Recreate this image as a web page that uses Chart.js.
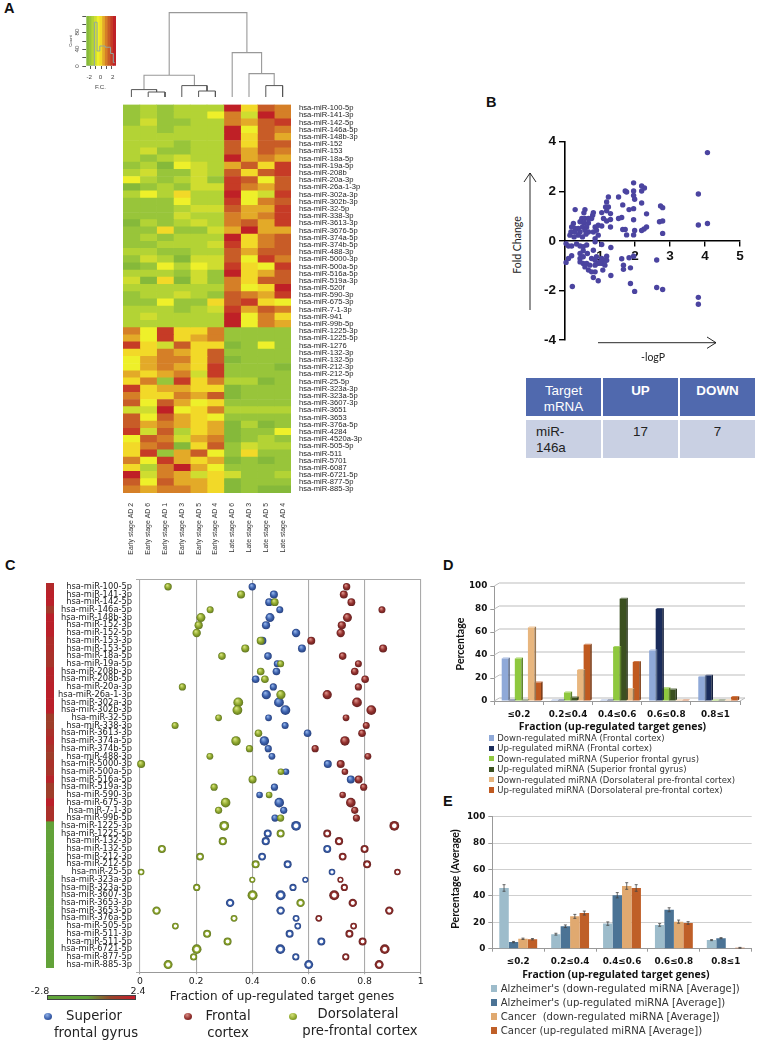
<!DOCTYPE html>
<html>
<head>
<meta charset="utf-8">
<title>miRNA figure</title>
<script src="https://cdn.jsdelivr.net/npm/chart.js@4/dist/chart.umd.min.js"></script>
<style>
  html, body { margin: 0; padding: 0; background: #fff; }
  #page { position: relative; width: 758px; height: 1042px; overflow: hidden; font-family: "Liberation Sans", sans-serif; }
  #page canvas, #page .t, #page .box { position: absolute; }
  #page .t { white-space: nowrap; line-height: 1; }
  #target { position: absolute; left: 526px; top: 378px; border-collapse: separate; border-spacing: 2px 4px; margin: 0; font-size: 13.4px; table-layout: fixed; }
  #target td { padding: 0; vertical-align: top; width: 75px; height: 38px; text-align: center; line-height: 15.5px; color: #222; }
  #target .h td { background: #5069ae; color: #fff; padding-top: 5px; height: 33px; }
  #target .r td { background: #c9d0e3; padding-top: 4px; height: 34px; }
</style>
</head>
<body>
<div id="page">
  <table id="target" style="left:524px;top:374px">
    <tr class="h"><td>Target<br>mRNA</td><td><b>UP</b></td><td><b>DOWN</b></td></tr>
    <tr class="r"><td style="text-align:left"><span style="margin-left:10px">miR-</span><br><span style="margin-left:10px">146a</span></td><td>17</td><td>7</td></tr>
  </table>
  <svg id="arrows" width="758" height="1042" style="position:absolute;left:0;top:0" fill="none" stroke="#111" stroke-width="0.9">
    <path d="M530 310V173M524 182L530 173L536 182"/>
    <path d="M598 342.7H716M707 337L716 342.7L707 348.4"/>
  </svg>
</div>
<script>
const samples = ['Early stage AD 2', 'Early stage AD 6', 'Early stage AD 1', 'Early stage AD 3', 'Early stage AD 5', 'Early stage AD 4',
  'Late stage AD 6', 'Late stage AD 3', 'Late stage AD 5', 'Late stage AD 4'];
const heatNames = ['hsa-miR-100-5p', 'hsa-miR-141-3p', 'hsa-miR-142-5p', 'hsa-miR-146a-5p', 'hsa-miR-148b-3p', 'hsa-miR-152', 'hsa-miR-153', 'hsa-miR-18a-5p',
  'hsa-miR-19a-5p', 'hsa-miR-208b', 'hsa-miR-20a-3p', 'hsa-miR-26a-1-3p', 'hsa-miR-302a-3p', 'hsa-miR-302b-3p', 'hsa-miR-32-5p', 'hsa-miR-338-3p',
  'hsa-miR-3613-3p', 'hsa-miR-3676-5p', 'hsa-miR-374a-5p', 'hsa-miR-374b-5p', 'hsa-miR-488-3p', 'hsa-miR-5000-3p', 'hsa-miR-500a-5p', 'hsa-miR-516a-5p',
  'hsa-miR-519a-3p', 'hsa-miR-520f', 'hsa-miR-590-3p', 'hsa-miR-675-3p', 'hsa-miR-7-1-3p', 'hsa-miR-941', 'hsa-miR-99b-5p',
  'hsa-miR-1225-3p', 'hsa-miR-1225-5p', 'hsa-miR-1276', 'hsa-miR-132-3p', 'hsa-miR-132-5p', 'hsa-miR-212-3p', 'hsa-miR-212-5p', 'hsa-miR-25-5p',
  'hsa-miR-323a-3p', 'hsa-miR-323a-5p', 'hsa-miR-3607-3p', 'hsa-miR-3651', 'hsa-miR-3653', 'hsa-miR-376a-5p', 'hsa-miR-4284', 'hsa-miR-4520a-3p',
  'hsa-miR-505-5p', 'hsa-miR-511', 'hsa-miR-5701', 'hsa-miR-6087', 'hsa-miR-6721-5p', 'hsa-miR-877-5p', 'hsa-miR-885-3p'];
const heatUpper = [
  [1,2,1,2,2,2,10,5,8,7], [1,2,1,2,2,4,7,3,10,7], [1,3,1,1,2,2,7,6,8,9], [2,2,1,2,2,2,10,4,8,7], [2,2,2,2,2,2,10,5,8,6],
  [2,2,2,1,2,2,8,5,8,8], [2,3,1,1,2,2,8,6,8,7], [2,1,2,3,2,2,10,6,7,6], [1,2,0,4,3,2,6,8,5,9], [2,3,1,1,3,2,8,5,8,9],
  [4,2,1,2,3,1,9,8,4,8], [0,1,2,1,3,3,9,7,6,8], [2,4,2,5,2,2,10,4,3,9], [1,1,1,4,2,2,9,4,7,8], [1,1,1,2,3,3,8,6,6,9],
  [1,1,1,3,2,2,7,6,7,9], [0,2,1,2,3,2,7,8,6,9], [1,1,5,1,1,3,6,10,6,6], [1,2,1,2,2,2,10,5,7,8], [1,1,2,2,2,3,9,5,7,8],
  [2,2,1,1,2,2,8,6,8,8], [1,3,2,0,3,3,8,4,9,7], [0,1,4,2,4,3,9,5,4,9], [2,2,2,1,3,1,10,5,6,8], [3,0,5,0,3,1,7,5,8,8],
  [2,2,2,2,2,2,7,4,5,10], [1,2,2,3,2,1,8,7,6,9], [1,1,4,1,1,5,8,9,5,4], [2,2,2,1,2,3,9,6,8,7], [2,3,2,2,2,2,10,4,7,5], [2,2,2,2,2,2,10,4,7,6]];
const heatLower = [
  [7,4,9,5,5,7,1,1,1,1], [6,4,9,5,6,7,1,1,1,1], [9,5,3,8,5,5,0,1,4,1], [5,5,7,6,5,8,1,1,1,1], [4,6,7,7,5,8,0,1,1,1],
  [4,6,7,6,5,9,1,1,1,0], [6,5,6,7,3,9,1,1,1,1], [5,7,1,9,5,7,2,2,0,1], [9,5,6,6,5,5,0,1,1,1], [7,5,5,7,6,8,0,1,1,1],
  [8,4,8,6,4,5,1,1,1,1], [3,3,10,4,5,7,2,2,2,2], [8,4,8,6,5,4,1,1,1,1], [8,6,7,6,5,6,0,2,0,1], [9,3,8,2,5,6,0,1,1,4],
  [4,8,7,3,6,7,0,1,2,1], [5,7,8,0,5,8,1,3,2,2], [5,9,1,6,8,4,1,5,1,1], [7,4,9,6,5,6,0,1,0,1], [5,2,7,10,6,4,1,1,1,1],
  [10,3,7,6,3,5,3,1,1,2], [8,4,8,6,6,5,0,1,1,1], [7,6,7,7,6,5,0,1,0,0]];
const heatPalette = ['#85b93a', '#98c53a', '#b3d335', '#cfdd30', '#eef02a', '#f2d928', '#e3aa28', '#d57f27', '#c85c27', '#c63b26', '#bf2026'];

// dendrogram merges: [left x, left height, right x, right height, merge height]
const dendroLow = [[1.5,0,2.5,0,5], [0.5,0,2,5,7.4], [4.5,0,5.5,0,6], [3.5,0,5,6,11.4], [8.5,0,9.5,0,11.4]];
const dendroHigh = [[1.25,7.4,4.25,11.4,21.7], [7.5,0,9,11.4,23.4], [6.5,0,8.25,23.4,44.4], [2.75,21.7,7.375,44.4,84.4]];

// colour key
const keyBins = [-2.5, -2, -1.5, -1, -0.5, 0, 0.5, 1, 1.5, 2, 2.5];
const keyFill = [120, 120, 120, 120, 120, 120, 120, 120, 120, 120, 120];
const keyCounts = [0, 0, 0, 105, 36, 48, 48, 45, 45, 30, 8];

// Panel B: volcano plot [-logP, fold change]
const volcano = [[4.07,3.56],[3.81,1.89],[3.81,0.64],[4.07,0.70],[3.81,-2.28],[3.81,-2.56],[2.73,1.41],[2.79,1.34],[2.70,0.77],[2.79,0.80],[2.79,0.30],
  [2.62,-0.77],[2.62,-1.88],[2.79,-1.96],[1.96,2.34],[1.96,2.01],[1.96,1.83],[1.99,1.68],[2.19,2.21],[2.27,2.13],[2.19,2.01],[1.72,2.01],[1.76,1.97],
  [1.53,1.77],[1.24,1.77],[1.65,1.45],[1.83,1.26],[1.96,1.30],[2.19,1.53],[2.33,1.09],[1.96,0.85],[2.33,0.56],[2.26,0.48],[2.19,0.42],[1.99,0.42],
  [1.96,0.24],[1.76,0.24],[1.72,0.46],[1.65,0.46],[1.62,0.94],[1.53,0.90],[1.19,1.57],[1.16,1.37],[1.24,1.37],[1.05,1.14],[1.19,1.21],[1.30,1.10],
  [1.30,0.86],[1.19,0.80],[1.10,0.90],[1.30,0.56],[1.05,0.60],[1.31,-0.27],[1.05,-0.15],[1.62,-0.72],[1.83,-0.68],[1.96,-0.62],[1.67,-0.98],[1.67,-1.15],
  [1.87,-1.09],[1.31,-1.40],[1.87,-1.72],[1.99,-2.04],[0.95,-1.61],[0.81,-1.48],[0.86,-1.25],[0.21,-1.84],[1.19,-0.62],[1.14,-0.78],[1.08,-1.18],[1.05,-0.91],
  [0.29,1.26],[0.57,1.26],[0.54,1.13],[0.81,1.14],[0.79,1.03],[0.48,0.90],[0.57,0.90],[0.67,0.90],[0.76,0.90],[0.43,0.77],[0.54,0.72],[0.67,0.72],[0.24,0.70],
  [0.19,0.56],[0.29,0.50],[0.38,0.50],[0.50,0.56],[0.62,0.56],[0.17,0.36],[0.29,0.36],[0.43,0.36],[0.57,0.43],[0.67,0.36],[0.14,0.23],[0.26,0.16],[0.38,0.23],
  [0.50,0.16],[0.60,0.27],[0.86,0.56],[0.95,0.63],[0.90,0.43],[0.81,0.36],[0.95,0.23],[0.86,0.09],[0.03,-0.11],[0.10,-0.21],[0.19,-0.21],[0.33,-0.13],[0.43,-0.21],
  [0.52,-0.24],[0.62,-0.17],[0.86,-0.04],[0.03,-0.87],[0.10,-0.71],[0.19,-0.60],[0.43,-0.51],[0.52,-0.40],[0.43,-0.71],[0.52,-0.64],[0.64,-0.51],[0.43,-0.85],
  [0.52,-0.91],[0.62,-0.91],[0.57,-1.05],[0.71,-0.98],[0.67,-1.18],[0.76,-1.25],[0.81,-0.38],[0.86,-0.78],[0.95,-0.91],[0.76,-0.71],[0.90,-0.64],[1.05,-0.71],
  [1.14,-0.98],[0.86,-0.98],[1.19,-0.78],[1.0,-0.85]];

// Panel C: fractions per miRNA
const rowNames = ['hsa-miR-100-5p','hsa-miR-141-3p','hsa-miR-142-5p','hsa-miR-146a-5p','hsa-miR-148b-3p','hsa-miR-152-3p','hsa-miR-152-5p','hsa-miR-153-3p','hsa-miR-153-5p',
  'hsa-miR-18a-5p','hsa-miR-19a-5p','hsa-miR-208b-3p','hsa-miR-208b-5p','hsa-miR-20a-3p','hsa-miR-26a-1-3p','hsa-miR-302a-3p','hsa-miR-302b-3p','hsa-miR-32-5p','hsa-miR-338-3p',
  'hsa-miR-3613-3p','hsa-miR-374a-5p','hsa-miR-374b-5p','hsa-miR-488-3p','hsa-miR-5000-3p','hsa-miR-500a-5p','hsa-miR-516a-5p','hsa-miR-519a-3p','hsa-miR-590-3p','hsa-miR-675-3p',
  'hsa-miR-7-1-3p','hsa-miR-99b-5p','hsa-miR-1225-3p','hsa-miR-1225-5p','hsa-miR-132-3p','hsa-miR-132-5p','hsa-miR-212-3p','hsa-miR-212-5p','hsa-miR-25-5p','hsa-miR-323a-3p',
  'hsa-miR-323a-5p','hsa-miR-3607-3p','hsa-miR-3653-3p','hsa-miR-3653-5p','hsa-miR-376a-5p','hsa-miR-505-5p','hsa-miR-511-3p','hsa-miR-511-5p','hsa-miR-6721-5p','hsa-miR-877-5p','hsa-miR-885-3p'];
const superiorGyrus = [.40,.477,.46,.498,.463,.449,.556,.436,.577,.456,.489,.486,.412,.475,.45,.495,.518,.458,.517,.597,.443,.457,.47,.669,.52,.751,.479,.426,.496,.512,.481,
  .556,.455,.448,.667,.435,.526,.684,.589,.545,.501,.321,.501,.556,.562,.533,.646,.50,.555,.601];
const frontalCortex = [.736,.726,.753,.862,.739,.719,.715,.61,.866,.722,.778,.765,.802,.778,.667,.773,.824,.734,.806,.791,.73,.624,.812,.715,.73,.779,.797,.722,.751,.765,.771,
  .906,.667,.709,.80,.722,.809,.917,.714,.728,.692,.758,.888,.637,.761,.746,.793,.872,.733,.852];
const dorsolateral = [.10,.36,.48,.25,.217,.209,.202,.43,.375,.292,.501,.43,.445,.151,.502,.35,.347,.28,.125,.422,.342,.39,.249,.004,.502,.401,.264,.46,.305,.28,.501,
  .30,.501,.295,.078,.214,.412,.004,.40,.202,.401,.572,.059,.335,.126,.239,.312,.202,.191,.10];
const rowSize = [3.7,4,3.9,3.5,4.5,4.1,4.2,4,4,3.8,3.5,3.8,3.8,3.6,4.6,4.9,4.9,3.4,3.5,3.8,4.7,3.6,3.4,4,3.3,4,3.6,3.3,4.8,3.6,3.6,
  4.9,4,4.1,4,3.9,4,3.3,3.1,3.6,5,4.2,4.2,3.4,3.4,4,4,4.8,3.6,4.5];
const sideFC = [2.1,2.3,2.3,1.7,2.3,2.3,2.3,2.0,2.0,1.9,1.8,2.2,2.2,2.3,2.3,2.3,2.3,1.6,1.6,1.9,2.1,1.8,1.6,1.9,1.8,2.2,1.6,1.6,2.3,1.9,1.9,
  -2.6,-2.6,-2.6,-2.6,-2.6,-2.6,-2.6,-2.6,-2.6,-2.5,-2.5,-2.6,-2.6,-2.6,-2.6,-2.6,-2.6,-2.6,-2.6];

// Panel D
const fractionBins = ['≤0.2', '0.2≤0.4', '0.4≤0.6', '0.6≤0.8', '0.8≤1'];
const downFrontal = [37, 0.5, 0.5, 44, 21];
const upFrontal = [0.5, 0.5, 0.5, 80, 22];
const downSuperior = [37, 7.5, 47, 11, 0.5];
const upSuperior = [0.5, 3, 89, 10, 0.5];
const downDorso = [64, 27, 10.5, 0.5, 0.5];
const upDorso = [16, 49, 34, 0.5, 3.5];
const panelDNames = ['Down-regulated miRNA (Frontal cortex)', 'Up-regulated miRNA (Frontal cortex)', 'Down-regulated miRNA (Superior frontal gyrus)',
  'Up-regulated miRNA (Superior frontal gyrus)', 'Down-regulated miRNA (Dorsolateral pre-frontal cortex)', 'Up-regulated miRNA (Dorsolateral pre-frontal cortex)'];
const panelDColors = ['#8fa9d8', '#1a2c5b', '#8fc83f', '#3b5020', '#e8b67e', '#c05a20'];

// Panel E
const alzDown = [46, 11, 19, 18, 6.5];
const alzUp = [5, 17, 40.5, 29.5, 8];
const cancerDown = [7.5, 24.5, 47.5, 20.5, 0.3];
const cancerUp = [7.2, 27, 46, 19.5, 0.7];
const alzDownErr = [2.5, 0.7, 1.3, 1, 0.4];
const alzUpErr = [0.5, 1, 2, 1.5, 0.4];
const cancerDownErr = [0.5, 1.5, 2.5, 1.2, 0];
const cancerUpErr = [0.5, 1.5, 2.5, 1, 0.3];
const panelENames = ["Alzheimer's (down-regulated miRNA [Average])", "Alzheimer's (up-regulated miRNA [Average])", 'Cancer  (down-regulated miRNA [Average])', 'Cancer (up-regulated miRNA [Average])'];
const panelEColors = ['#9dbccb', '#4b7395', '#e0a970', '#bf5f28'];

Chart.defaults.animation = false;
Chart.defaults.responsive = false;
Chart.defaults.font.family = '"Liberation Sans", sans-serif';
Chart.defaults.color = '#222';
Chart.defaults.plugins.legend.display = false;
Chart.defaults.plugins.tooltip.enabled = false;

const page = document.getElementById('page');

function place(x, y, w, h) {
  const c = document.createElement('canvas');
  c.width = w; c.height = h;
  c.style.left = x + 'px'; c.style.top = y + 'px';
  c.style.width = w + 'px'; c.style.height = h + 'px';
  page.appendChild(c);
  return c;
}

// anchor: 0 left, .5 centre, 1 right. y is always the text's middle
function text(str, x, y, css, anchor, rotate) {
  const d = document.createElement('div');
  d.className = 't';
  d.textContent = str;
  d.style.cssText = 'left:' + x + 'px;top:' + y + 'px;' + (css || '') +
    ';transform:translate(' + (-(anchor === undefined ? 0 : anchor) * 100) + '%,-50%)';
  if (rotate) d.style.transform = 'translate(-50%,-50%) rotate(' + rotate + 'deg)';
  page.appendChild(d);
}

function swatch(x, y, w, color) {
  const d = document.createElement('div');
  d.className = 'box';
  d.style.cssText = 'left:' + x + 'px;top:' + (y - w / 2) + 'px;width:' + w + 'px;height:' + w + 'px;background:' + color;
  page.appendChild(d);
}

const forceSize = size => scale => { if (scale.isHorizontal()) scale.height = size; else scale.width = size; };

// panel letters
const letterCss = 'font:bold 14.5px "Liberation Sans";color:#111';
text('A', 4, 8, letterCss);
text('B', 486, 102, letterCss);
text('C', 5, 565, letterCss);
text('D', 443, 565, letterCss);
text('E', 443, 801, letterCss);

// ---------- A: heat map ----------
const heatRows = heatUpper.concat(heatLower);
new Chart(place(123, 100, 258, 460), {
  type: 'bar',
  data: {
    labels: heatNames,
    datasets: samples.map((name, col) => ({
      label: name,
      data: heatRows.map(() => 1),
      backgroundColor: heatRows.map(row => heatPalette[row[col]]),
      borderWidth: 0,
      barPercentage: 1,
      categoryPercentage: 1
    }))
  },
  options: {
    indexAxis: 'y',
    scales: {
      x: {
        stacked: true, min: 0, max: 10, afterFit: forceSize(67),
        grid: { display: false }, border: { display: false },
        afterBuildTicks: s => { s.ticks = samples.map((n, i) => ({ value: i + 0.5 })); },
        ticks: { callback: (v) => samples[Math.floor(v)], minRotation: 90, maxRotation: 90, autoSkip: false, padding: 2, font: { size: 6.9 }, color: '#333' }
      },
      y: {
        stacked: true, position: 'right', afterFit: forceSize(90),
        grid: { display: false }, border: { display: false },
        ticks: { autoSkip: false, padding: 0, font: { size: 7.6 }, color: '#222' }
      }
    }
  }
});

function treePath(merges) {
  const pts = [];
  merges.forEach(m => {
    pts.push({ x: m[0], y: m[1] }, { x: m[0], y: m[4] }, { x: m[2], y: m[4] }, { x: m[2], y: m[3] }, { x: NaN, y: NaN });
  });
  return pts;
}

new Chart(place(123, 9.7, 168, 87), {
  type: 'scatter',
  data: {
    datasets: [
      { data: treePath(dendroLow), showLine: true, pointRadius: 0, borderColor: '#555', borderWidth: 1 },
      { data: treePath(dendroHigh), showLine: true, pointRadius: 0, borderColor: '#999', borderWidth: 1.1 }
    ]
  },
  options: {
    scales: {
      x: { display: false, min: 0, max: 10 },
      y: { display: false, min: 0, max: 87 }
    }
  }
});

// colour key with count histogram
new Chart(place(60, 10, 70, 62), {
  type: 'bar',
  data: {
    labels: keyBins,
    datasets: [
      { type: 'line', data: keyCounts, stepped: 'middle', borderColor: '#8fa8a0', borderWidth: 1, pointRadius: 0 },
      { data: keyFill, backgroundColor: heatPalette, borderWidth: 0, barPercentage: 1, categoryPercentage: 1 }
    ]
  },
  options: {
    layout: { padding: { top: 6, right: 14 } },
    scales: {
      x: {
        afterFit: forceSize(6),
        grid: { drawOnChartArea: false, tickLength: 3, color: c => c.index % 2 ? '#555' : 'transparent', offset: false }, border: { display: false },
        ticks: { display: false }
      },
      y: {
        min: 0, max: 120, afterFit: forceSize(26.3),
        grid: { drawOnChartArea: false, tickLength: 4, color: '#555' }, border: { display: false },
        ticks: { stepSize: 20, display: false }
      }
    }
  }
});
const keyCss = 'font:6.2px "Liberation Sans";color:#444';
text('-2', 89.3, 76, keyCss, .5);
text('0', 100.5, 76, keyCss, .5);
text('2', 112.7, 76, keyCss, .5);
text('F.C.', 100.5, 85.5, keyCss, .5);
text('0', 75.5, 66, keyCss, .5, -90);
text('40', 75.5, 49.3, keyCss, .5, -90);
text('80', 75.5, 32.3, keyCss, .5, -90);
text('Count', 70, 40.5, 'font:4.3px "Liberation Sans";color:#444', .5, -90);

// ---------- B: volcano ----------
new Chart(place(530, 130, 228, 225), {
  type: 'scatter',
  data: {
    datasets: [{
      data: volcano.map(p => ({ x: p[0], y: p[1] })),
      backgroundColor: '#4b44a0', borderWidth: 0, pointRadius: 2.7, clip: false
    }]
  },
  options: {
    layout: { padding: { top: 11.7, right: 18, bottom: 15 } },
    scales: {
      x: {
        min: 0, max: 5, position: { y: 0 },
        grid: { drawOnChartArea: false, tickLength: 5, color: '#000', lineWidth: 1.4 },
        border: { color: '#000', width: 1.6 },
        ticks: { stepSize: 1, padding: 2, callback: v => v === 0 ? '' : v, font: { size: 13.5, weight: 'bold' }, color: '#111', maxRotation: 0 }
      },
      y: {
        min: -4, max: 4, afterFit: forceSize(35),
        grid: { drawOnChartArea: false, tickLength: 6, color: '#000', lineWidth: 1.4 },
        border: { color: '#000', width: 1.6 },
        ticks: { stepSize: 2, padding: 3, font: { size: 13.5, weight: 'bold' }, color: '#111' }
      }
    }
  }
});
text('Fold Change', 516.7, 245, 'font:10.5px Lato;color:#222', .5, -90);
text('-logP', 653, 357, 'font:10.5px Lato;color:#222', .5);

// ---------- C: fraction of up-regulated genes ----------
const sideStops = [[-2.8, [96, 165, 58]], [-0.2, [125, 130, 45]], [1.4, [150, 70, 42]], [2.4, [190, 28, 42]]];
function sideColor(v) {
  for (let i = 1; i < sideStops.length; i++) {
    if (v <= sideStops[i][0]) {
      const a = sideStops[i - 1], b = sideStops[i];
      const t = Math.max(0, (v - a[0]) / (b[0] - a[0]));
      return 'rgb(' + a[1].map((c, k) => Math.round(c + (b[1][k] - c) * t)).join(',') + ')';
    }
  }
  return 'rgb(190,28,42)';
}
new Chart(place(46.3, 582.7, 8, 385.6), {
  type: 'bar',
  data: {
    labels: rowNames,
    datasets: [{ data: sideFC.map(() => 1), backgroundColor: sideFC.map(sideColor), barPercentage: 1, categoryPercentage: 1, borderWidth: 0 }]
  },
  options: {
    indexAxis: 'y',
    scales: { x: { display: false, min: 0, max: 1 }, y: { display: false } }
  }
});

const ballColors = {
  blue: ['#8fb0e6', '#3d62ae', '#27407c'],
  red: ['#d88d85', '#93302d', '#632020'],
  green: ['#d3e07a', '#90a92e', '#5f7420']
};
function ball(tone) {
  return ctx => {
    const c = ballColors[tone];
    if (!ctx.raw) return c[1];
    const r = ctx.raw.r;
    const px = ctx.chart.scales.x.getPixelForValue(ctx.raw.x);
    const py = ctx.chart.scales.y.getPixelForValue(ctx.raw.y);
    if (!isFinite(px) || !isFinite(py)) return c[1];
    let g;
    if (ctx.raw.y < 31) {
      g = ctx.chart.ctx.createRadialGradient(px - r * .25, py - r * .4, r * .1, px, py, r);
      g.addColorStop(0, c[0]); g.addColorStop(.55, c[1]); g.addColorStop(1, c[2]);
    } else {
      g = ctx.chart.ctx.createRadialGradient(px, py, 0, px, py, r);
      g.addColorStop(0, '#fff'); g.addColorStop(.36, '#fff'); g.addColorStop(.58, c[1]); g.addColorStop(1, c[2]);
    }
    return g;
  };
}
const rowPoints = values => values.map((v, i) => ({ x: v, y: i, r: rowSize[i] }));
new Chart(place(0, 570, 430, 425), {
  type: 'bubble',
  data: {
    datasets: [
      { label: 'Dorsolateral pre-frontal cortex', data: rowPoints(dorsolateral), backgroundColor: ball('green'), borderWidth: 0, clip: false },
      { label: 'Frontal cortex', data: rowPoints(frontalCortex), backgroundColor: ball('red'), borderWidth: 0, clip: false },
      { label: 'Superior frontal gyrus', data: rowPoints(superiorGyrus), backgroundColor: ball('blue'), borderWidth: 0, clip: false }
    ]
  },
  options: {
    layout: { padding: { top: 9, right: 9.3 } },
    scales: {
      x: {
        min: 0, max: 1, afterFit: forceSize(22.7),
        grid: { color: '#aaa', lineWidth: 1.1, tickLength: 2 }, border: { color: '#999' },
        ticks: { stepSize: .2, padding: 2, font: { family: 'DejaVu Sans', size: 9.3 }, color: '#222', maxRotation: 0, callback: v => +v.toFixed(1) }
      },
      y: {
        min: -1, max: 50, reverse: true, afterFit: forceSize(140),
        grid: { color: c => (c.tick.value === -1 || c.tick.value === 50) ? '#aaa' : 'transparent', tickLength: 4 },
        border: { display: false },
        ticks: { stepSize: 1, autoSkip: false, padding: 4, callback: v => rowNames[v] || '', font: { family: 'DejaVu Sans', size: 8.3 }, color: '#222' }
      }
    }
  }
});
text('Fraction of up-regulated target genes', 282, 996, 'font:12px "DejaVu Sans";color:#222', .5);
text('-2.8', 40, 990, 'font:9.5px "DejaVu Sans";color:#222', .5);
text('2.4', 138, 990, 'font:9.5px "DejaVu Sans";color:#222', .5);
const scaleBar = document.createElement('div');
scaleBar.className = 'box';
scaleBar.style.cssText = 'left:47.3px;top:995px;width:88.7px;height:4.6px;border:.6px solid #444;box-sizing:border-box;background:linear-gradient(90deg,#60a53a 0%,#5fa53a 45%,#96462a 72%,#c81c2c 100%)';
page.appendChild(scaleBar);

function legendBall(x, y, tone) {
  const c = ballColors[tone];
  const d = document.createElement('div');
  d.className = 'box';
  d.style.cssText = 'left:' + (x - 4) + 'px;top:' + (y - 3.5) + 'px;width:8px;height:7px;border-radius:50%;background:radial-gradient(circle at 40% 30%,' + c[0] + ',' + c[1] + ' 55%,' + c[2] + ')';
  page.appendChild(d);
}
const legendCss = 'font:13.2px "DejaVu Sans";color:#222';
legendBall(48, 1016.7, 'blue');
legendBall(187.7, 1016.7, 'red');
legendBall(292.7, 1016.5, 'green');
text('Superior', 94, 1015, legendCss, .5);
text('frontal gyrus', 96, 1031.5, legendCss, .5);
text('Frontal', 228, 1015, legendCss, .5);
text('cortex', 228, 1031.5, legendCss, .5);
text('Dorsolateral', 358, 1013, legendCss, .5);
text('pre-frontal cortex', 360, 1030, legendCss, .5);

// ---------- D: 3D look bars ----------
const DEPTH_X = 5, DEPTH_Y = 3, BAR_SHIFT = 2.5;
function mix(hex, to, t) {
  const n = parseInt(hex.slice(1), 16);
  const rgb = [n >> 16 & 255, n >> 8 & 255, n & 255].map(c => Math.round(c + (to - c) * t));
  return 'rgb(' + rgb.join(',') + ')';
}
const look3d = {
  id: 'look3d',
  beforeDatasetsDraw(chart) {
    const { ctx, chartArea: a, scales: { y } } = chart;
    ctx.save();
    ctx.strokeStyle = '#bdbdbd';
    ctx.lineWidth = 1;
    [0, 20, 40, 60, 80, 100].forEach(v => {
      const py = y.getPixelForValue(v);
      ctx.beginPath();
      ctx.moveTo(a.left, py);
      ctx.lineTo(a.left + DEPTH_X, py - DEPTH_Y);
      ctx.lineTo(a.right + DEPTH_X, py - DEPTH_Y);
      ctx.stroke();
    });
    ctx.beginPath();
    ctx.moveTo(a.right, y.getPixelForValue(0));
    ctx.lineTo(a.right + DEPTH_X, y.getPixelForValue(0) - DEPTH_Y);
    ctx.stroke();
    ctx.restore();
    ctx.save();
    ctx.translate(BAR_SHIFT, 0);
  },
  afterDatasetDraw(chart, args) {
    const { ctx } = chart;
    const color = panelDColors[args.index];
    args.meta.data.forEach(bar => {
      const l = bar.x - bar.width / 2, r = bar.x + bar.width / 2;
      ctx.fillStyle = mix(color, 0, .35);
      ctx.beginPath();
      ctx.moveTo(r, bar.y); ctx.lineTo(r + 1.6, bar.y - 1); ctx.lineTo(r + 1.6, bar.base - 1); ctx.lineTo(r, bar.base);
      ctx.fill();
      ctx.fillStyle = mix(color, 255, .2);
      ctx.beginPath();
      ctx.moveTo(l, bar.y); ctx.lineTo(l + 1.6, bar.y - 1); ctx.lineTo(r + 1.6, bar.y - 1); ctx.lineTo(r, bar.y);
      ctx.fill();
    });
  },
  afterDatasetsDraw(chart) {
    chart.ctx.restore();
  }
};
const boldTicks = { family: 'DejaVu Sans', size: 8.8, weight: 'bold' };
new Chart(place(440, 575, 318, 160), {
  type: 'bar',
  data: {
    labels: fractionBins,
    datasets: [downFrontal, upFrontal, downSuperior, upSuperior, downDorso, upDorso].map((values, i) => ({
      label: panelDNames[i], data: values, backgroundColor: panelDColors[i], borderWidth: 0, barPercentage: 1, categoryPercentage: .8
    }))
  },
  plugins: [look3d],
  options: {
    layout: { padding: { top: 11, right: 18 } },
    scales: {
      x: {
        afterFit: forceSize(34),
        grid: { drawOnChartArea: false, tickLength: 4, color: '#999', offset: true }, border: { color: '#999' },
        ticks: { padding: 4, font: boldTicks, color: '#111', maxRotation: 0 }
      },
      y: {
        min: 0, max: 100, afterFit: forceSize(54.3),
        grid: { drawOnChartArea: false, tickLength: 4, color: '#999' }, border: { color: '#999' },
        ticks: { stepSize: 20, padding: 3, font: boldTicks, color: '#111' }
      }
    }
  }
});
const titleCss = 'font:bold 10.4px "Open Sans";color:#111';
const sideTitleCss = 'font:bold 10.6px Lato;color:#111';
text('Fraction (up-regulated target genes)', 612.5, 725.7, titleCss, .5);
text('Percentage', 460, 644.3, sideTitleCss, .5, -90);
panelDNames.forEach((name, i) => {
  const y = 738 + i * 10.4;
  swatch(488.7, y, 5.3, panelDColors[i]);
  text(name, 497.3, y, 'font:8.5px "DejaVu Sans";color:#333');
});

// ---------- E: averages with error bars ----------
const panelEErrs = [alzDownErr, alzUpErr, cancerDownErr, cancerUpErr];
const errorBars = {
  id: 'errorBars',
  afterDatasetsDraw(chart) {
    const { ctx, scales: { y } } = chart;
    ctx.save();
    ctx.strokeStyle = '#444';
    ctx.lineWidth = .8;
    chart.data.datasets.forEach((ds, i) => {
      chart.getDatasetMeta(i).data.forEach((bar, j) => {
        const e = panelEErrs[i][j];
        if (!e) return;
        const hi = y.getPixelForValue(ds.data[j] + e), lo = y.getPixelForValue(ds.data[j] - e);
        ctx.beginPath();
        ctx.moveTo(bar.x, hi); ctx.lineTo(bar.x, lo);
        ctx.moveTo(bar.x - 1.5, hi); ctx.lineTo(bar.x + 1.5, hi);
        ctx.moveTo(bar.x - 1.5, lo); ctx.lineTo(bar.x + 1.5, lo);
        ctx.stroke();
      });
    });
    ctx.restore();
  }
};
new Chart(place(440, 805, 318, 165), {
  type: 'bar',
  data: {
    labels: fractionBins,
    datasets: [alzDown, alzUp, cancerDown, cancerUp].map((values, i) => ({
      label: panelENames[i], data: values, backgroundColor: panelEColors[i], borderWidth: 0, barPercentage: 1, categoryPercentage: .73
    }))
  },
  plugins: [errorBars],
  options: {
    layout: { padding: { top: 11.7, right: 6.3 } },
    scales: {
      x: {
        afterFit: forceSize(21.3),
        grid: { drawOnChartArea: false, tickLength: 3, color: '#999', offset: true }, border: { color: '#999' },
        ticks: { padding: 5, font: boldTicks, color: '#111', maxRotation: 0 }
      },
      y: {
        min: 0, max: 100, afterFit: forceSize(52.3),
        grid: { color: '#cfcfcf', tickLength: 4, tickColor: '#999' }, border: { color: '#999' },
        ticks: { stepSize: 10, padding: 3, font: boldTicks, color: '#111' }
      }
    }
  }
});
text('Fraction (up-regulated target genes)', 615.8, 974, titleCss, .5);
text('Percentage (Average)', 455, 879.3, sideTitleCss, .5, -90);
panelENames.forEach((name, i) => {
  const y = 988.3 + i * 14;
  swatch(490.7, y, 6.5, panelEColors[i]);
  text(name, 500.7, y, 'font:10.1px "DejaVu Sans";color:#333;white-space:pre');
});
</script>
</body>
</html>
